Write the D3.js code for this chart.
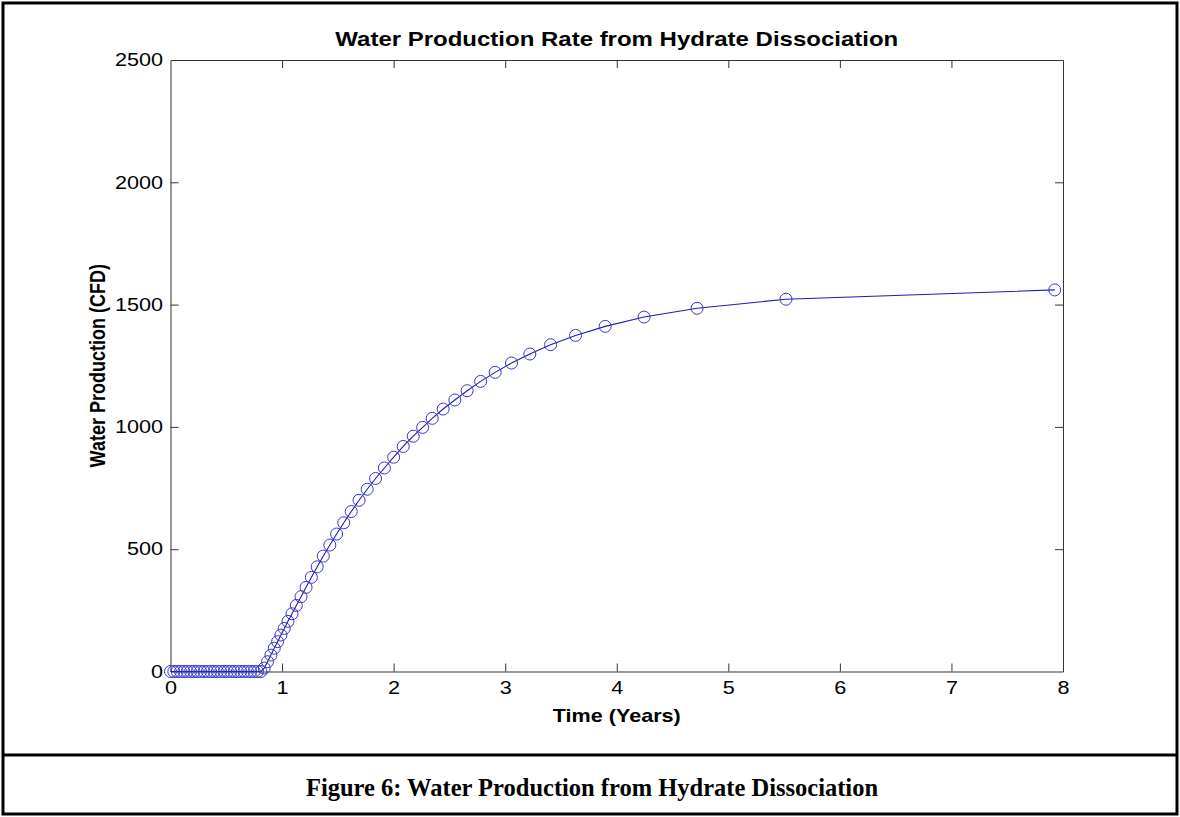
<!DOCTYPE html>
<html>
<head>
<meta charset="utf-8">
<script src="https://cdn.jsdelivr.net/npm/d3@7"></script>
<style>
  body { margin: 0; background: #fff; }
  svg text { font-family: Arial, "Liberation Sans", sans-serif; fill: #000; }
</style>
</head>
<body>
<svg id="chart" width="1180" height="817"></svg>
<script>
// time (years) of each simulation output step
const timeYears = [
  0, 0.03, 0.06, 0.09, 0.12, 0.15, 0.18, 0.21, 0.24, 0.27, 0.30, 0.33, 0.36, 0.39,
  0.42, 0.45, 0.48, 0.51, 0.54, 0.57, 0.60, 0.63, 0.66, 0.69, 0.72, 0.75, 0.78, 0.81,
  0.84, 0.87, 0.90, 0.93, 0.96, 0.99, 1.02, 1.053, 1.089, 1.128, 1.170, 1.215, 1.263,
  1.315, 1.370, 1.428, 1.489, 1.553, 1.620, 1.690, 1.763, 1.838, 1.917, 2.000, 2.086,
  2.176, 2.260, 2.346, 2.444, 2.549, 2.659, 2.780, 2.910, 3.057, 3.221, 3.407, 3.631,
  3.896, 4.245, 4.720, 5.517, 7.926
]
// water production rate (CFD)
const waterRate = [
  0, 0, 0, 0, 0, 0, 0, 0, 0, 0, 0, 0, 0, 0,
  0, 0, 0, 0, 0, 0, 0, 0, 0, 0, 0, 0, 0, 0,
  14, 40, 67, 95, 122, 149, 176, 205, 236, 270, 306, 344, 385,
  428, 472, 517, 562, 608, 654, 700, 745, 789, 832, 876, 920,
  962, 998, 1035, 1073, 1110, 1148, 1186, 1223, 1261, 1298, 1336, 1374,
  1411, 1449, 1485, 1522, 1560
]
const xTicks = [0, 1, 2, 3, 4, 5, 6, 7, 8]
const yTicks = [0, 500, 1000, 1500, 2000, 2500]

const chartTitle = 'Water Production Rate from Hydrate Dissociation'
const xLabel = 'Time (Years)'
const yLabel = 'Water Production (CFD)'
const caption = 'Figure 6: Water Production from Hydrate Dissociation'

const svg = d3.select('#chart')
const plot = { left: 170.5, right: 1063, top: 60, bottom: 671.5 }
// the original figure was pasted stretched sideways, so its text is wider than normal
const stretch = 1.2

// page frame and caption divider
svg.append('rect')
  .attr('x', 3).attr('y', 3)
  .attr('width', 1174).attr('height', 811)
  .attr('fill', 'none').attr('stroke', '#000').attr('stroke-width', 3)
svg.append('line')
  .attr('x1', 3).attr('x2', 1177)
  .attr('y1', 755).attr('y2', 755)
  .attr('stroke', '#000').attr('stroke-width', 3)

const x = d3.scaleLinear().domain([0, 8]).range([plot.left, plot.right])
const y = d3.scaleLinear().domain([0, 2500]).range([plot.bottom, plot.top])

const axisColor = '#333'
const tickLen = 8

// matlab style: ticks point inward on all four sides, labels only bottom/left
const bottomAxis = svg.append('g')
  .attr('transform', `translate(0,${plot.bottom})`)
  .call(d3.axisBottom(x).tickValues(xTicks).tickSizeInner(-tickLen).tickSizeOuter(0).tickPadding(10))
const topAxis = svg.append('g')
  .attr('transform', `translate(0,${plot.top})`)
  .call(d3.axisTop(x).tickValues(xTicks).tickSizeInner(-tickLen).tickSizeOuter(0).tickFormat(''))
const leftAxis = svg.append('g')
  .attr('transform', `translate(${plot.left},0)`)
  .call(d3.axisLeft(y).tickValues(yTicks).tickFormat(d3.format('d')).tickSizeInner(-tickLen).tickSizeOuter(0).tickPadding(6.3))
const rightAxis = svg.append('g')
  .attr('transform', `translate(${plot.right},0)`)
  .call(d3.axisRight(y).tickValues(yTicks).tickSizeInner(-tickLen).tickSizeOuter(0).tickFormat(''))

;[bottomAxis, topAxis, leftAxis, rightAxis].forEach(g => {
  g.select('.domain').attr('stroke', axisColor)
  g.selectAll('.tick line').attr('stroke', axisColor)
  g.selectAll('.tick text')
    .style('font-family', 'Arial, "Liberation Sans", sans-serif')
    .attr('font-size', 18)
    .attr('fill', '#000')
    .attr('transform', `scale(${stretch},1)`)
})
// drop the end ticks that sit on the box corners
topAxis.selectAll('.tick line').filter(d => d === 0 || d === 8).remove()
bottomAxis.selectAll('.tick line').filter(d => d === 0 || d === 8).remove()
leftAxis.selectAll('.tick line').filter(d => d === 0 || d === 2500).remove()
rightAxis.selectAll('.tick line').filter(d => d === 0 || d === 2500).remove()

// data
const points = timeYears.map((t, i) => ({ t, v: waterRate[i] }))
const line = d3.line().x(d => x(d.t)).y(d => y(d.v))

svg.append('path')
  .datum(points)
  .attr('d', line)
  .attr('fill', 'none')
  .attr('stroke', '#1c1cb4')
  .attr('stroke-width', 1.1)

svg.append('g')
  .selectAll('circle')
  .data(points)
  .join('circle')
  .attr('cx', d => x(d.t))
  .attr('cy', d => y(d.v))
  .attr('r', 6)
  .attr('fill', 'none')
  .attr('stroke', '#3838c8')
  .attr('stroke-width', 1)

// titles
const midX = (plot.left + plot.right) / 2
svg.append('text')
  .attr('transform', `translate(${midX},46) scale(${stretch},1)`)
  .attr('text-anchor', 'middle')
  .attr('font-size', 20)
  .attr('font-weight', 'bold')
  .text(chartTitle)

svg.append('text')
  .attr('transform', `translate(${midX},722) scale(${stretch},1)`)
  .attr('text-anchor', 'middle')
  .attr('font-size', 18)
  .attr('font-weight', 'bold')
  .text(xLabel)

svg.append('text')
  .attr('transform', `translate(105,${(plot.top + plot.bottom) / 2}) scale(${stretch},1) rotate(-90)`)
  .attr('text-anchor', 'middle')
  .attr('font-size', 18)
  .attr('font-weight', 'bold')
  .text(yLabel)

svg.append('text')
  .attr('x', 592)
  .attr('y', 796)
  .attr('text-anchor', 'middle')
  .attr('font-size', 24.5)
  .attr('font-weight', 'bold')
  .style('font-family', '"Liberation Serif", "Times New Roman", serif')
  .text(caption)
</script>
</body>
</html>
